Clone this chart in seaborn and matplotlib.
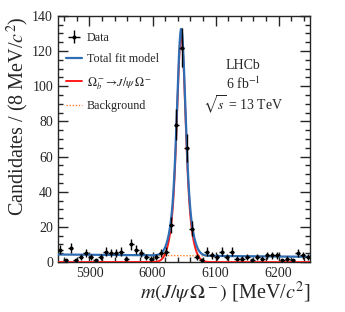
import numpy as np
import pandas as pd
import matplotlib
matplotlib.use("Agg")
from matplotlib import pyplot as plt
from matplotlib.ticker import MultipleLocator
import seaborn as sns

# binned data, 8 MeV bins from 5850 to 6250
bin_lo = 5850
bin_width = 8
counts = [7, 1, 8, 1, 3, 5, 3, 1, 3, 6, 5, 5, 6, 2, 10, 7, 5, 3, 2, 3,
          5, 6, 21, 78, 122, 65, 19, 3, 1, 6, 4, 3, 6, 3, 6, 2, 2, 3, 1, 3,
          2, 4, 4, 4, 1, 2, 1, 5, 4, 3]

# fit parameters
peak_mass = 6045.5
core_height = 84.0
core_sigma = 6.0
wide_height = 45.0
wide_sigma = 12.0
bkg_left = 4.3   # background level at 5850
bkg_right = 3.0  # background level at 6250

centers = bin_lo + bin_width / 2 + bin_width * np.arange(len(counts))
df = pd.DataFrame({"mass": centers, "n": counts})
df["err"] = np.sqrt(df["n"])

m = np.linspace(5850, 6250, 1200)
bkg = bkg_left + (bkg_right - bkg_left) * (m - 5850) / 400
sig = (core_height * np.exp(-0.5 * ((m - peak_mass) / core_sigma) ** 2)
       + wide_height * np.exp(-0.5 * ((m - peak_mass) / wide_sigma) ** 2))
curves = pd.DataFrame({"m": m, "bkg": bkg, "sig": sig, "tot": sig + bkg})

sns.set_theme(style="ticks")
plt.rcParams["font.family"] = ["Liberation Serif", "DejaVu Serif"]
plt.rcParams["mathtext.fontset"] = "stix"

fig = plt.figure(figsize=(3.45, 3.12), dpi=100)
ax = fig.add_axes([0.168, 0.160, 0.731, 0.789])

ax.errorbar(df["mass"], df["n"], yerr=df["err"], xerr=bin_width / 2,
            fmt="o", ms=1.8, color="black", lw=1, capsize=0, label="Data", zorder=5)
sns.lineplot(data=curves, x="m", y="tot", ax=ax, color="#2f6eb5", lw=1.6,
             label="Total fit model", zorder=4)
sns.lineplot(data=curves, x="m", y="sig", ax=ax, color="#ff1a1a", lw=1.4,
             label=r"$\Omega_b^-\!\to\! J/\psi\,\Omega^-$", zorder=3)
sns.lineplot(data=curves, x="m", y="bkg", ax=ax, color="#ff7f2a", lw=1.0,
             ls=(0, (1, 1.2)), label="Background", zorder=2)

ax.set_xlim(5850, 6250)
ax.set_ylim(0, 140)
ax.xaxis.set_major_locator(MultipleLocator(100))
ax.xaxis.set_minor_locator(MultipleLocator(20))
ax.yaxis.set_major_locator(MultipleLocator(20))
ax.yaxis.set_minor_locator(MultipleLocator(5))
ax.tick_params(which="both", direction="in", top=True, right=True, width=1, labelsize=10)
ax.tick_params(which="major", length=7)
ax.tick_params(which="minor", length=3.5)
for s in ax.spines.values():
    s.set_linewidth(1)

ax.set_xlabel(r"$m(J/\psi\,\Omega^-)$ [MeV/$c^2$]", fontsize=14.5, loc="right", labelpad=0)
ax.set_ylabel(r"Candidates / (8 MeV/$c^2$)", fontsize=14.5, loc="top", labelpad=1)

handles, labels = ax.get_legend_handles_labels()
order = [labels.index("Data")] + [i for i, l in enumerate(labels) if l != "Data"]
ax.legend([handles[i] for i in order], [labels[i] for i in order],
          loc="upper left", bbox_to_anchor=(0.0, 0.97), frameon=False,
          fontsize=8.7, handlelength=1.3, handletextpad=0.4,
          borderaxespad=0.3, labelspacing=0.78)

ax.text(0.735, 0.80, "LHCb", transform=ax.transAxes, ha="center", va="center", fontsize=10)
ax.text(0.735, 0.725, r"6 fb$^{-1}$", transform=ax.transAxes, ha="center", va="center", fontsize=10)
ax.text(0.735, 0.64, r"$\sqrt{s}$ = 13 TeV", transform=ax.transAxes, ha="center", va="center", fontsize=10)

fig.savefig("out.png", dpi=100)
